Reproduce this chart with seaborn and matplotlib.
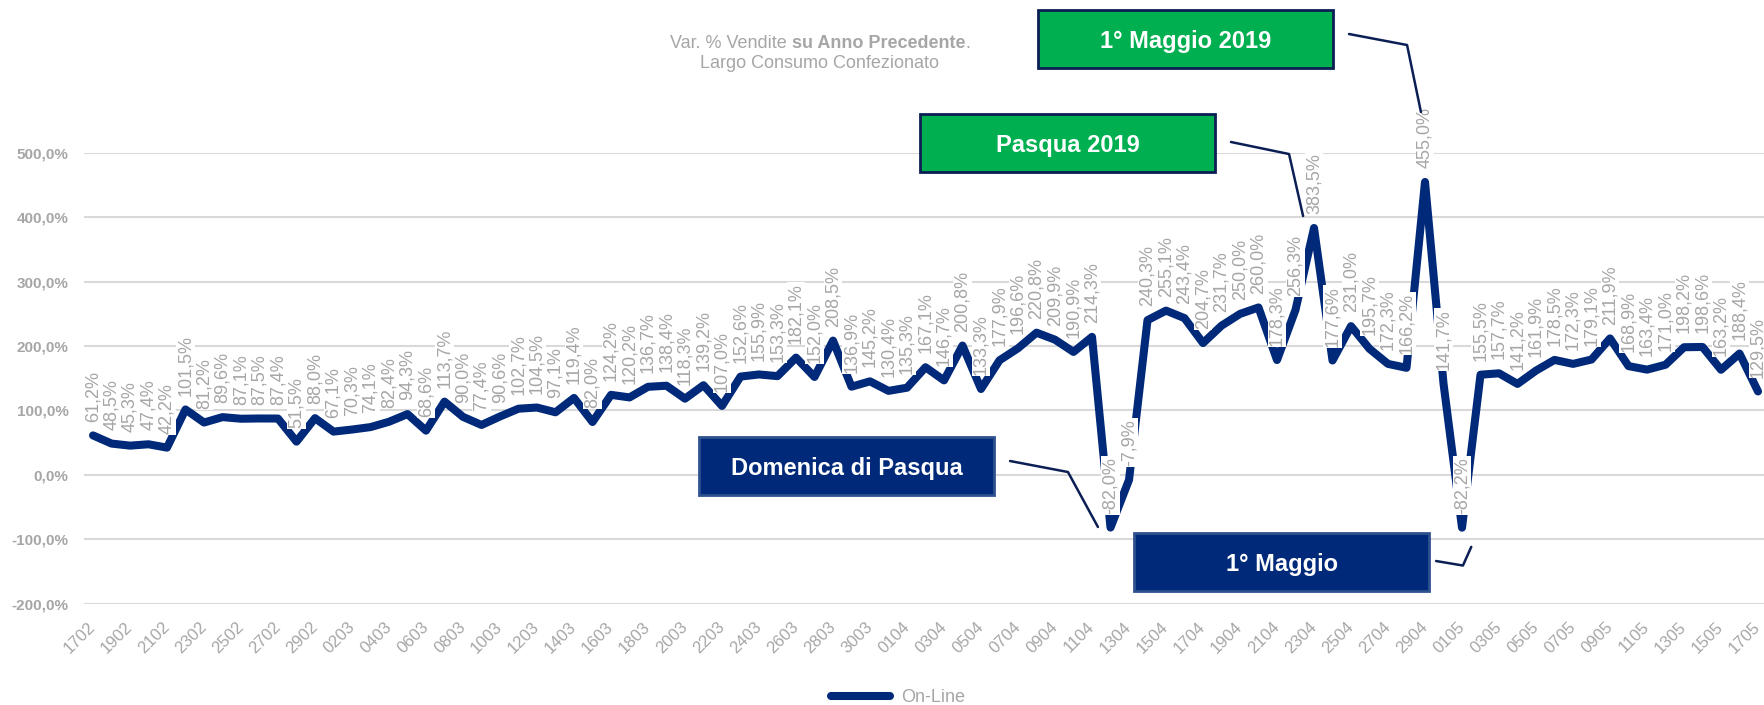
import pandas as pd
import matplotlib
matplotlib.use("Agg")
import matplotlib.pyplot as plt
import seaborn as sns
from matplotlib.patches import Rectangle

# daily values, 17/02/2020 -> 17/05/2020
dates = pd.date_range("2020-02-17", "2020-05-17", freq="D").strftime("%d%m").tolist()
online = [61.2, 48.5, 45.3, 47.4, 42.2, 101.5, 81.2, 89.6, 87.1, 87.5,
          87.4, 51.5, 88.0, 67.1, 70.3, 74.1, 82.4, 94.3, 68.6, 113.7,
          90.0, 77.4, 90.6, 102.7, 104.5, 97.1, 119.4, 82.0, 124.2, 120.2,
          136.7, 138.4, 118.3, 139.2, 107.0, 152.6, 155.9, 153.3, 182.1, 152.0,
          208.5, 136.9, 145.2, 130.4, 135.3, 167.1, 146.7, 200.8, 133.3, 177.9,
          196.6, 220.8, 209.9, 190.9, 214.3, -82.0, -7.9, 240.3, 255.1, 243.4,
          204.7, 231.7, 250.0, 260.0, 178.3, 256.3, 383.5, 177.6, 231.0, 195.7,
          172.3, 166.2, 455.0, 141.7, -82.2, 155.5, 157.7, 141.2, 161.9, 178.5,
          172.3, 179.1, 211.9, 168.9, 163.4, 171.0, 198.2, 198.6, 163.2, 188.4,
          129.5]
y_ticks = [-200, -100, 0, 100, 200, 300, 400, 500]

NAVY = "#00297A"
GREEN = "#00B050"
GRAY = "#A6A6A6"
LEADER = "#0B1F55"

sns.set_style("white")
plt.rcParams["font.family"] = ["Liberation Sans", "DejaVu Sans"]

fig = plt.figure(figsize=(17.64, 7.05), dpi=100)
ax = fig.add_axes([0.04748, 0.14397, 0.95437, 0.639])

df = pd.DataFrame({"pos": range(len(online)), "var": online})
sns.lineplot(data=df, x="pos", y="var", color=NAVY, lw=5.8, ax=ax,
             label="On-Line", solid_joinstyle="round", zorder=2)

# data labels (white background like excel)
for i, v in enumerate(online):
    ax.annotate(f"{v:.1f}%".replace(".", ","), (i, v), xytext=(0, 10),
                textcoords="offset points", rotation=90, ha="center", va="bottom",
                fontsize=13, color=GRAY, zorder=3, annotation_clip=False,
                bbox=dict(boxstyle="square,pad=0.05", fc="white", ec="none"))

ax.set_xlim(-0.5, len(online) - 0.5)
ax.set_ylim(-200, 500)
ax.set_yticks(y_ticks)
ax.set_yticklabels([f"{t:.1f}%".replace(".", ",") for t in y_ticks],
                   fontsize=11, fontweight="bold", color=GRAY)
ax.set_xticks(range(0, len(dates), 2))
ax.set_xticklabels(dates[::2], fontsize=12, color=GRAY)
plt.setp(ax.get_xticklabels(), rotation=45, ha="right", va="center",
         rotation_mode="anchor")
ax.tick_params(axis="x", length=0, pad=15)
ax.tick_params(axis="y", length=0, pad=11)
ax.grid(axis="y", color="#D9D9D9", lw=1.5)
ax.set_axisbelow(True)
ax.set_xlabel("")
ax.set_ylabel("")
sns.despine(ax=ax, left=True, bottom=True)

# callouts: text, fill, edge, box lower-left (data), leader path (data)
BOX_W, BOX_H = 15.95, 90
callouts = [
    ("Domenica di Pasqua", NAVY, "#2F528F", (32.76, -31.4),
     [(49.57, 21.4), (52.70, 4.3), (54.32, -81.1)]),
    ("1° Maggio", NAVY, "#2F528F", (56.27, -179.8),
     [(72.6, -134.0), (74.05, -141.0), (74.5, -112.0)]),
    ("Pasqua 2019", GREEN, LEADER, (44.70, 470.5),
     [(61.51, 517.1), (64.65, 498.4), (65.41, 402.1)]),
    ("1° Maggio 2019", GREEN, LEADER, (51.08, 632.1),
     [(67.89, 684.9), (71.03, 667.8), (71.78, 563.7)]),
]
for text, fc, ec, (x0, y0), path in callouts:
    ax.add_patch(Rectangle((x0, y0), BOX_W, BOX_H, fc=fc, ec=ec, lw=2,
                           clip_on=False, zorder=5))
    ax.text(x0 + BOX_W / 2, y0 + BOX_H / 2, text, ha="center", va="center_baseline",
            color="white", fontsize=17, fontweight="bold", zorder=6)
    xs, ys = zip(*path)
    ax.plot(xs, ys, color=LEADER, lw=1.8, clip_on=False, zorder=4)

# title, first line with a bold part
W, H = 1764, 705
TX = 820
r = fig.canvas.get_renderer()
parts = [("Var. % Vendite", "normal"), ("su Anno Precedente", "bold"), (".", "normal")]
texts = [fig.text(0, 1 - 44 / H, s, fontsize=13, fontweight=w, color=GRAY, va="center")
         for s, w in parts]
space = fig.text(0, 0, " x", fontsize=13).get_window_extent(r).width - \
    fig.text(0, 0, "x", fontsize=13).get_window_extent(r).width
for t in fig.texts[-2:]:
    t.remove()
widths = [t.get_window_extent(r).width for t in texts]
x = TX - (sum(widths) + space) / 2
for k, (t, w) in enumerate(zip(texts, widths)):
    t.set_x(x / W)
    x += w + (space if k == 0 else 0)
fig.text(TX / W, 1 - 64 / H, "Largo Consumo Confezionato", fontsize=13,
         color=GRAY, ha="center", va="center")

handles, labels = ax.get_legend_handles_labels()
if ax.get_legend():
    ax.get_legend().remove()
fig.legend(handles, labels, loc="center", bbox_to_anchor=(0.509, 1 - 698 / H),
           frameon=False, fontsize=13, labelcolor=GRAY, handlelength=3.3,
           handletextpad=0.6)

fig.savefig("out.png", dpi=100)
